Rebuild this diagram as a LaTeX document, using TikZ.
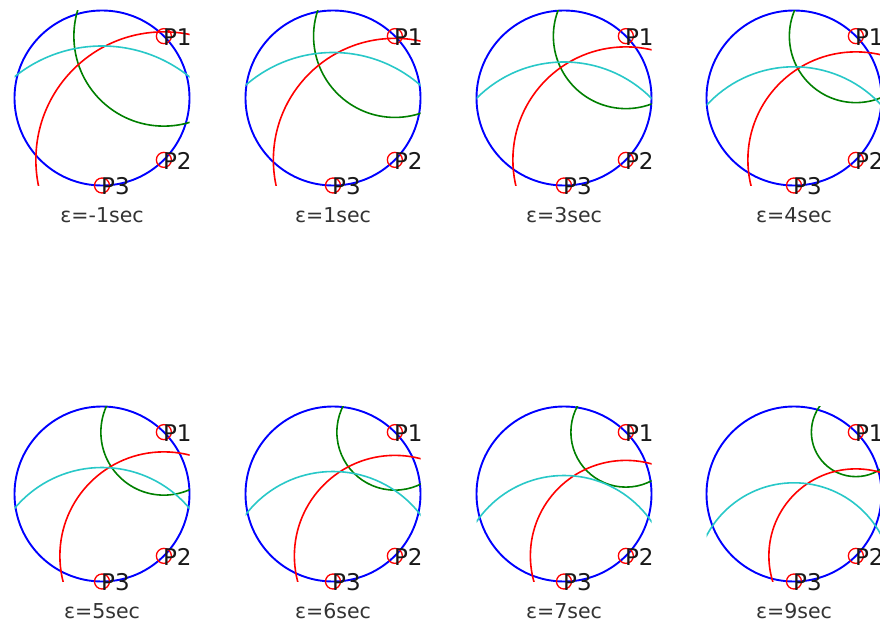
\documentclass[tikz,border=0pt]{standalone}
\usepackage{fontspec}
\setmainfont{DejaVu Sans}
\usetikzlibrary{calc}
\definecolor{cblue}{RGB}{0,0,255}
\definecolor{cred}{RGB}{255,0,0}
\definecolor{cgreen}{RGB}{0,128,0}
\definecolor{ccyan}{RGB}{40,200,200}
\tikzset{
  ring/.style={draw=cblue, line width=1.9pt},
  arcg/.style={draw=cgreen, line width=1.6pt},
  arcr/.style={draw=cred, line width=1.6pt},
  arcc/.style={draw=ccyan, line width=1.6pt},
  marker/.style={draw=cred, line width=1.3pt, circle, minimum size=15pt, inner sep=0pt},
  plabel/.style={anchor=west, inner sep=0pt, font=\fontsize{23}{23}\selectfont, text=black!90},
  captext/.style={inner sep=0pt, font=\fontsize{20.5}{20.5}\selectfont, text=black!80},
}
\newcommand\drawpanel[7]{%
  \begin{scope}[shift={(#2,#3)}]
    \coordinate (o#1) at (0,0);
    \coordinate (pa#1) at (45:87.5pt);
    \coordinate (pb#1) at (-45:87.5pt);
    \coordinate (pc#1) at (-90:87.5pt);
    \draw[ring] (o#1) circle (87.5pt);
    \begin{scope}
      \clip (-87.5,-87.5) rectangle (87.5,87.5);
      \draw[arcg] (pa#1) circle (#5pt);
      \draw[arcr] (pb#1) circle (#6pt);
      \draw[arcc] (pc#1) circle (#7pt);
    \end{scope}
    \node[marker] (ma#1) at (pa#1) {};
    \node[marker] (mb#1) at (pb#1) {};
    \node[marker] (mc#1) at (pc#1) {};
    \node[plabel] (la#1) at ($(pa#1)+(-1,-1)$) {P1};
    \node[plabel] (lb#1) at ($(pb#1)+(-1,-1)$) {P2};
    \node[plabel] (lc#1) at ($(pc#1)+(-1,-1)$) {P3};
    \node[captext] (cap#1) at (0,-117) {ε=#4sec};
  \end{scope}}
\begin{document}
\begin{tikzpicture}[x=1pt,y=1pt]
  \useasboundingbox (0,0) rectangle (880,622);
  \clip (0,0) rectangle (880,622);
  \fill[white] (0,0) rectangle (880,622);
  \drawpanel{1}{102}{524}{-1}{90}{128}{139.5}
  \drawpanel{2}{333}{524}{1}{81.3}{121.5}{133}
  \drawpanel{3}{564}{524}{3}{72.5}{113}{123.5}
  \drawpanel{4}{794}{524}{4}{66.5}{108}{118.7}
  \drawpanel{5}{102}{128}{5}{63}{104}{114}
  \drawpanel{6}{333}{128}{6}{58}{100.5}{110}
  \drawpanel{7}{564}{128}{7}{55}{95.5}{106}
  \drawpanel{8}{794}{128}{9}{44.5}{87}{98.7}
\end{tikzpicture}
\end{document}
